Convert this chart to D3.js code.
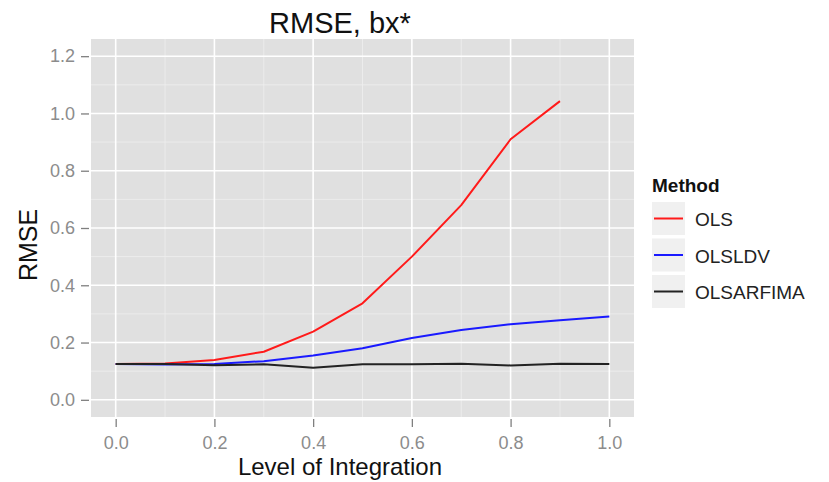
<!DOCTYPE html>
<html>
<head>
<meta charset="utf-8">
<script src="https://cdn.jsdelivr.net/npm/d3@7"></script>
<style>
  body { margin: 0; background: #fff; }
  svg text { font-family: "Liberation Sans", Arial, sans-serif; }
</style>
</head>
<body>
<svg id="chart" width="829" height="482"></svg>
<script>
// data
const levels = [0.0, 0.1, 0.2, 0.3, 0.4, 0.5, 0.6, 0.7, 0.8, 0.9, 1.0]
const olsValues = [0.125, 0.127, 0.139, 0.168, 0.238, 0.337, 0.500, 0.680, 0.910, 1.043, null]
const olsldvValues = [0.125, 0.123, 0.125, 0.135, 0.155, 0.180, 0.216, 0.244, 0.264, 0.278, 0.291]
const olsarfimaValues = [0.125, 0.125, 0.121, 0.124, 0.112, 0.124, 0.124, 0.126, 0.120, 0.126, 0.125]
const methods = ['OLS', 'OLSLDV', 'OLSARFIMA']
const methodColors = ['#ff1a1a', '#1a1aff', '#222222']
const xTicks = [0, 0.2, 0.4, 0.6, 0.8, 1.0]
const yTicks = [0, 0.2, 0.4, 0.6, 0.8, 1.0, 1.2]

const series = [olsValues, olsldvValues, olsarfimaValues].map((vals, i) => ({
  name: methods[i],
  color: methodColors[i],
  points: levels.map((x, j) => ({x, y: vals[j]})).filter(p => p.y != null)
}))

const svg = d3.select('#chart')
const panel = {left: 91, right: 634, top: 39, bottom: 417}

const x = d3.scaleLinear().domain([-0.05, 1.05]).range([panel.left, panel.right])
const y = d3.scaleLinear().domain([-0.06, 1.26]).range([panel.bottom, panel.top])

// panel background
svg.append('rect')
  .attr('x', panel.left).attr('y', panel.top)
  .attr('width', panel.right - panel.left).attr('height', panel.bottom - panel.top)
  .attr('fill', '#e0e0e0')

// minor grid
const minorX = d3.range(0.1, 1.0, 0.2)
const minorY = d3.range(0.1, 1.2, 0.2)
const grid = svg.append('g').attr('class', 'grid')
grid.selectAll('line.minx').data(minorX).enter().append('line')
  .attr('x1', d => x(d)).attr('x2', d => x(d))
  .attr('y1', panel.top).attr('y2', panel.bottom)
  .attr('stroke', '#efefef').attr('stroke-width', 0.8)
grid.selectAll('line.miny').data(minorY).enter().append('line')
  .attr('y1', d => y(d)).attr('y2', d => y(d))
  .attr('x1', panel.left).attr('x2', panel.right)
  .attr('stroke', '#efefef').attr('stroke-width', 0.8)

// major grid
grid.selectAll('line.majx').data(xTicks).enter().append('line')
  .attr('x1', d => x(d)).attr('x2', d => x(d))
  .attr('y1', panel.top).attr('y2', panel.bottom)
  .attr('stroke', '#ffffff').attr('stroke-width', 1.6)
grid.selectAll('line.majy').data(yTicks).enter().append('line')
  .attr('y1', d => y(d)).attr('y2', d => y(d))
  .attr('x1', panel.left).attr('x2', panel.right)
  .attr('stroke', '#ffffff').attr('stroke-width', 1.6)

// axes
const xAxis = svg.append('g')
  .attr('transform', `translate(0,${panel.bottom})`)
  .call(d3.axisBottom(x).tickValues(xTicks).tickFormat(d3.format('.1f')).tickSize(6))
const yAxis = svg.append('g')
  .attr('transform', `translate(${panel.left},0)`)
  .call(d3.axisLeft(y).tickValues(yTicks).tickFormat(d3.format('.1f')).tickSize(6))

;[xAxis, yAxis].forEach(ax => {
  ax.select('.domain').remove()
  ax.selectAll('.tick line').attr('stroke', '#7f7f7f').attr('stroke-width', 1.3)
  ax.selectAll('.tick text').attr('fill', '#8c8c8c').style('font-size', '18px')
})
xAxis.selectAll('.tick line').attr('y1', 2).attr('y2', 10)
xAxis.selectAll('.tick text').attr('y', 19)
yAxis.selectAll('.tick line').attr('x1', -2).attr('x2', -10)
yAxis.selectAll('.tick text').attr('x', -16)

// lines
const line = d3.line().x(d => x(d.x)).y(d => y(d.y))
svg.append('g').attr('class', 'lines')
  .selectAll('path').data(series).enter().append('path')
  .attr('d', d => line(d.points))
  .attr('fill', 'none')
  .attr('stroke', d => d.color)
  .attr('stroke-width', 2)
  .attr('stroke-linejoin', 'round')

// title and axis labels
svg.append('text')
  .attr('x', 340).attr('y', 33)
  .attr('text-anchor', 'middle')
  .style('font-size', '29px').attr('fill', '#111')
  .text('RMSE, bx*')
svg.append('text')
  .attr('x', 340).attr('y', 475)
  .attr('text-anchor', 'middle')
  .style('font-size', '24px').attr('fill', '#111')
  .text('Level of Integration')
svg.append('text')
  .attr('transform', 'translate(37,245) rotate(-90)')
  .attr('text-anchor', 'middle')
  .style('font-size', '25px').attr('fill', '#111')
  .text('RMSE')

// legend
const legend = svg.append('g').attr('transform', 'translate(652,0)')
legend.append('text')
  .attr('x', 0).attr('y', 192)
  .style('font-size', '19px').style('font-weight', 'bold').attr('fill', '#111')
  .text('Method')
const keys = legend.selectAll('g.key').data(series).enter().append('g')
  .attr('class', 'key')
  .attr('transform', (d, i) => `translate(0,${202 + i * 36.5})`)
keys.append('rect')
  .attr('width', 33).attr('height', 33)
  .attr('fill', '#f0f0f0')
keys.append('line')
  .attr('x1', 2).attr('x2', 31).attr('y1', 16.5).attr('y2', 16.5)
  .attr('stroke', d => d.color)
  .attr('stroke-width', 2)
keys.append('text')
  .attr('x', 43).attr('y', 24)
  .style('font-size', '19px').attr('fill', '#222')
  .text(d => d.name)
</script>
</body>
</html>
